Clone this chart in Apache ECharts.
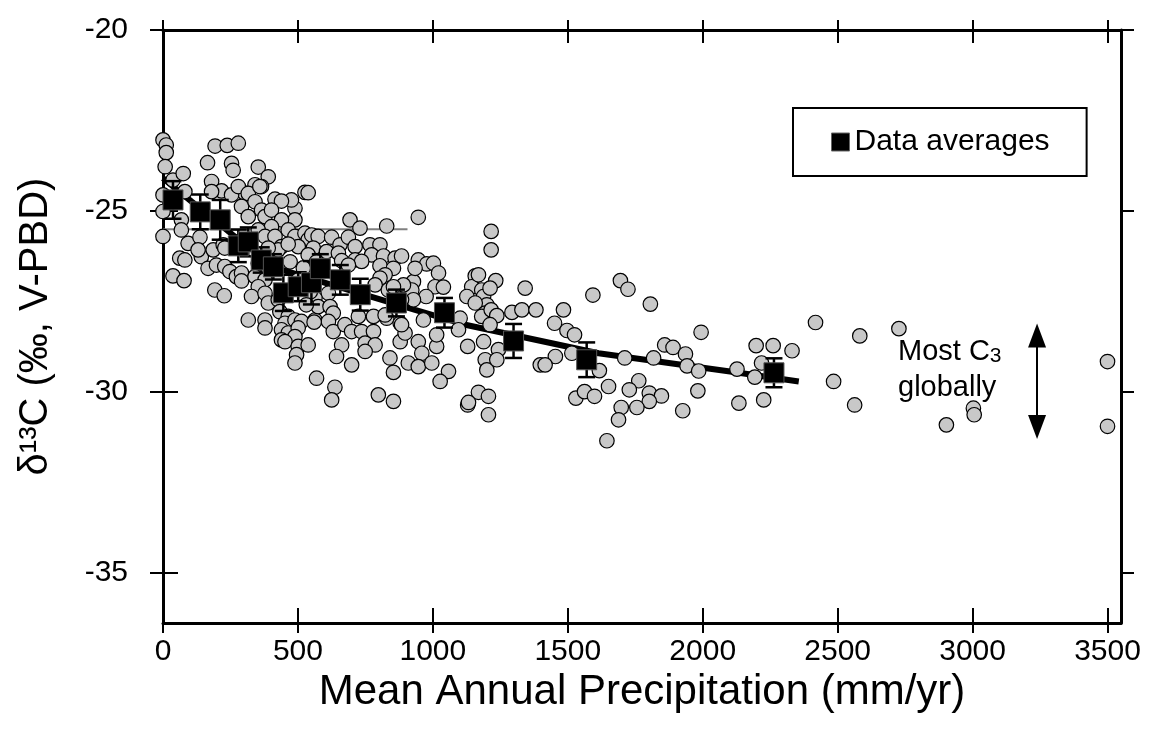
<!DOCTYPE html>
<html>
<head>
<meta charset="utf-8">
<script src="https://cdn.jsdelivr.net/npm/echarts@6/dist/echarts.min.js"></script>
<style>
html,body{margin:0;padding:0;background:#fff;}
#chart{width:1152px;height:745px;}
</style>
</head>
<body>
<div id="chart"></div>
<script>
// ---- data ----
const xTicks = [0, 500, 1000, 1500, 2000, 2500, 3000, 3500];
const yTicks = [-35, -30, -25, -20];

const scatterPoints = [
[0,-23.04],[12,-23.18],[12,-23.39],[8,-23.78],[37,-24.15],[75,-23.97],[193,-23.21],[238,-23.19],[279,-23.13],[165,-23.67],
[254,-23.69],[260,-23.88],[353,-23.79],[390,-24.06],[526,-24.49],[0,-24.56],[180,-24.19],[341,-24.28],[365,-24.33],[303,-24.51],
[489,-24.93],[476,-24.70],[415,-24.68],[439,-24.73],[81,-24.47],[217,-24.45],[254,-24.56],[279,-24.33],[316,-24.52],[359,-24.33],
[0,-25.02],[68,-25.25],[68,-25.53],[0,-25.71],[93,-25.90],[137,-25.73],[62,-26.31],[81,-26.36],[37,-26.80],[78,-26.93],
[142,-26.27],[167,-26.59],[198,-26.50],[229,-26.54],[248,-26.68],[272,-26.82],[291,-26.72],[291,-26.94],[192,-27.19],[227,-27.35],
[186,-26.08],[223,-25.94],[291,-24.88],[341,-24.75],[316,-25.16],[365,-24.98],[378,-25.16],[402,-24.98],[489,-25.25],[439,-25.25],
[402,-25.44],[464,-25.53],[489,-25.71],[526,-25.62],[538,-25.80],[501,-25.99],[563,-25.71],[353,-25.53],[378,-25.71],[415,-25.71],
[439,-25.99],[229,-26.03],[353,-26.45],[341,-26.82],[378,-26.91],[353,-27.10],[328,-27.37],[378,-27.28],[390,-27.55],[427,-27.46],
[433,-27.79],[464,-27.92],[452,-28.11],[489,-28.02],[513,-28.06],[563,-28.02],[439,-28.29],[464,-28.38],[501,-28.24],[489,-28.48],
[439,-28.57],[452,-28.62],[501,-28.75],[495,-28.98],[489,-29.21],[316,-28.02],[378,-28.02],[378,-28.24],[569,-29.63],[180,-24.47],
[130,-26.08],
[538,-24.50],[693,-25.25],[730,-25.48],[829,-25.42],[946,-25.18],[551,-25.67],[575,-25.71],[625,-25.73],[656,-25.94],[687,-25.73],
[712,-25.99],[767,-25.94],[804,-25.94],[773,-26.22],[817,-26.25],[860,-26.31],[884,-26.25],[946,-26.36],[977,-26.47],[1002,-26.45],
[1021,-26.72],[928,-26.96],[922,-27.19],[1008,-27.10],[1039,-27.11],[975,-27.37],[928,-27.46],[1157,-26.80],[1144,-27.10],[1126,-27.37],
[1181,-27.19],[1188,-27.37],[1200,-27.60],[1157,-27.55],[1194,-27.83],[1181,-27.92],[1101,-27.97],[1095,-28.29],[1129,-28.75],[1188,-28.62],
[1194,-29.12],[1200,-29.40],[1169,-30.02],[1129,-30.37],[1206,-30.64],[557,-26.03],[606,-26.13],[650,-26.17],[712,-26.36],[736,-26.40],
[662,-26.38],[687,-26.50],[804,-26.52],[854,-26.59],[823,-26.77],[804,-26.86],[786,-27.05],[835,-27.19],[891,-27.05],[613,-27.28],
[563,-27.42],[575,-27.65],[619,-27.65],[631,-27.83],[613,-28.06],[560,-28.08],[631,-28.34],[674,-28.15],[699,-28.34],[736,-28.34],
[780,-28.34],[780,-27.92],[724,-27.92],[829,-27.97],[879,-28.11],[879,-28.62],[897,-28.38],[946,-28.62],[959,-28.94],[909,-29.21],
[946,-29.31],[996,-29.21],[1014,-28.75],[1014,-28.43],[965,-28.02],[823,-27.88],[749,-28.66],[786,-28.71],[749,-28.89],[662,-28.71],
[643,-29.03],[699,-29.26],[841,-29.07],[854,-29.47],[637,-29.88],[625,-30.23],[798,-30.09],[854,-30.27],[1058,-29.44],[1027,-29.72],
[934,-26.59],[854,-27.10],[884,-27.46],[884,-28.15],[1132,-30.30],[1206,-30.13],
[1216,-25.57],[1216,-26.08],[1169,-26.77],[1233,-26.93],[1212,-27.14],[1342,-27.14],[1293,-27.81],[1330,-27.74],[1382,-27.74],[1216,-27.74],
[1237,-27.90],[1212,-28.15],[1243,-28.84],[1237,-29.12],[1484,-27.74],[1451,-28.11],[1497,-28.31],[1525,-28.43],[1515,-28.94],[1454,-29.03],
[1398,-29.26],[1416,-29.26],[1593,-27.33],[1617,-29.42],[1530,-30.18],[1562,-30.00],[1599,-30.13],[1651,-29.86],[1645,-31.36],[1695,-26.93],
[1723,-27.17],[1806,-27.58],[1711,-29.07],[1818,-29.07],[1763,-29.70],[1728,-29.95],[1802,-30.04],[1847,-30.12],[1802,-30.27],[1756,-30.44],
[1698,-30.44],[1688,-30.78],[1859,-28.71],[1890,-28.78],[1936,-28.96],[1942,-29.29],[1985,-29.43],[1994,-28.36],[1982,-29.98],[1926,-30.53],
[2127,-29.38],[2134,-30.32],[2198,-28.73],[2261,-28.73],[2331,-28.87],[2218,-29.21],[2193,-29.60],[2226,-30.23],
[2418,-28.09],[2582,-28.46],[2727,-28.26],[2485,-29.72],[2563,-30.37],[2903,-30.92],[3003,-30.46],[3006,-30.64],[3500,-29.17],[3500,-30.96],
[538,-26.22],[520,-26.58],[569,-26.41],[501,-26.91],[546,-27.24],[471,-26.41],[427,-26.08],[390,-26.03],[464,-25.92],[531,-27.60],[538,-28.71]
];

const avgX   = [37, 138, 212, 279, 316, 364, 409, 446, 501, 550, 583, 657, 731, 865, 1043, 1299, 1570, 2264];
const avgY   = [-24.70, -25.03, -25.25, -25.97, -25.86, -26.36, -26.55, -27.27, -27.10, -26.99, -26.60, -26.91, -27.32, -27.55, -27.82, -28.60, -29.12, -29.48];
const avgErr = [0.52, 0.48, 0.55, 0.45, 0.40, 0.35, 0.35, 0.50, 0.40, 0.60, 0.40, 0.41, 0.44, 0.37, 0.41, 0.47, 0.48, 0.40];

const fitX = [0, 105, 266, 427, 687, 934, 1120, 1614, 2108, 2356];
const fitY = [-24.10, -24.74, -25.71, -26.60, -27.19, -27.74, -28.15, -28.94, -29.45, -29.72];

const grayBarX = [0, 906];
const grayBarY = [-25.51, -25.51];

const arrowX = 3239;
const arrowYTop = -28.45;
const arrowYBottom = -30.98;

// ---- chart ----
const FONT = 'Liberation Sans, Arial, Helvetica, sans-serif';
const X_MIN = 0, X_MAX = 3550, Y_MIN = -36.4, Y_MAX = -20;
const gridBox = {left: 163, right: 31, top: 30, bottom: 122};

function xAx(grid, pos, opts) {
  return Object.assign({
    type: 'value', gridIndex: grid, position: pos, min: X_MIN, max: X_MAX,
    splitLine: {show: false},
    axisLine: {show: true, onZero: false, lineStyle: {color: '#000', width: 3}},
    axisTick: {show: true, inside: false, length: 10, customValues: xTicks, lineStyle: {color: '#000', width: 2}},
    axisLabel: {show: false, customValues: xTicks}
  }, opts);
}
function yAx(grid, pos, opts) {
  return Object.assign({
    type: 'value', gridIndex: grid, position: pos, min: Y_MIN, max: Y_MAX,
    splitLine: {show: false},
    axisLine: {show: true, onZero: false, lineStyle: {color: '#000', width: 3}},
    axisTick: {show: true, inside: false, length: 10, customValues: yTicks, lineStyle: {color: '#000', width: 2}},
    axisLabel: {show: false, customValues: yTicks}
  }, opts);
}

const chart = echarts.init(document.getElementById('chart'), null, {renderer: 'canvas'});

const option = {
  animation: false,
  backgroundColor: '#fff',
  textStyle: {fontFamily: FONT, color: '#000'},
  grid: [Object.assign({}, gridBox), Object.assign({}, gridBox)],
  xAxis: [
    xAx(0, 'bottom', {
      axisLabel: {show: true, customValues: xTicks, fontSize: 30, color: '#000', fontFamily: FONT, margin: 14,
        formatter: function (v) { return String(v); }},
      name: 'Mean Annual Precipitation (mm/yr)', nameLocation: 'middle', nameGap: 48,
      nameTextStyle: {fontSize: 42, color: '#000', fontFamily: FONT}
    }),
    xAx(0, 'top', {}),
    xAx(1, 'bottom', {axisLine: {show: false}, axisTick: {show: true, inside: true, length: 15, customValues: xTicks, lineStyle: {color: '#000', width: 2}}}),
    xAx(1, 'top', {axisLine: {show: false}, axisTick: {show: true, inside: true, length: 13, customValues: xTicks, lineStyle: {color: '#000', width: 2}}})
  ],
  yAxis: [
    yAx(0, 'left', {
      axisLabel: {show: true, customValues: yTicks, fontSize: 30, color: '#000', fontFamily: FONT, margin: 35,
        formatter: function (v) { return String(v); }},
      name: 'δ¹³C (‰, V-PBD)', nameLocation: 'middle', nameGap: 107,
      nameTextStyle: {fontSize: 40, color: '#000', fontFamily: FONT}
    }),
    yAx(0, 'right', {axisTick: {show: true, inside: false, length: 13, customValues: yTicks, lineStyle: {color: '#000', width: 2}}}),
    yAx(1, 'left', {axisLine: {show: false}, axisTick: {show: true, inside: true, length: 15, customValues: yTicks, lineStyle: {color: '#000', width: 2}}}),
    yAx(1, 'right', {axisLine: {show: false}, axisTick: {show: true, inside: true, length: 13, customValues: yTicks, lineStyle: {color: '#000', width: 2}}})
  ],
  legend: {
    data: ['Data averages'],
    left: 793, top: 108,
    padding: [19, 37, 19, 38],
    borderColor: '#000', borderWidth: 2,
    icon: 'rect', itemWidth: 18, itemHeight: 18,
    itemStyle: {color: '#000', opacity: 1, borderColor: '#666', borderWidth: 1},
    textStyle: {fontSize: 30, color: '#000', fontFamily: FONT},
    selectedMode: false
  },
  graphic: [{
    type: 'text', left: 898, top: 334, silent: true,
    style: {
      text: 'Most C{s|3}\nglobally',
      fill: '#000', fontSize: 29, fontFamily: FONT, lineHeight: 36,
      rich: {s: {fontSize: 21, fontFamily: FONT, fill: '#000', padding: [8, 0, 0, 0]}}
    }
  }],
  series: [
    {
      name: 'fit', type: 'line', xAxisIndex: 0, yAxisIndex: 0, z: 1,
      data: fitX.map((x, i) => [x, fitY[i]]),
      showSymbol: false, symbol: 'none', smooth: false,
      lineStyle: {color: '#000', width: 6}, silent: true
    },
    {
      name: 'grayBar', type: 'line', xAxisIndex: 0, yAxisIndex: 0, z: 1,
      data: grayBarX.map((x, i) => [x, grayBarY[i]]),
      showSymbol: false, symbol: 'none',
      lineStyle: {color: '#808080', width: 2}, silent: true
    },
    {
      name: 'points', type: 'scatter', xAxisIndex: 0, yAxisIndex: 0, z: 2,
      data: scatterPoints, symbol: 'circle', symbolSize: 14.5,
      itemStyle: {color: '#c8c8c8', borderColor: '#000', borderWidth: 1.2, opacity: 1},
      silent: true
    },
    {
      name: 'errors', type: 'custom', xAxisIndex: 0, yAxisIndex: 0, z: 3,
      data: avgX.map((x, i) => [x, avgY[i] - avgErr[i], avgY[i] + avgErr[i]]),
      encode: {x: 0, y: [1, 2]},
      renderItem: function (params, api) {
        const x = api.value(0);
        const lo = api.coord([x, api.value(1)]);
        const hi = api.coord([x, api.value(2)]);
        const hw = 8.5;
        const st = {stroke: '#000', lineWidth: 2.5};
        return {type: 'group', children: [
          {type: 'line', shape: {x1: hi[0], y1: hi[1], x2: lo[0], y2: lo[1]}, style: st},
          {type: 'line', shape: {x1: hi[0] - hw, y1: hi[1], x2: hi[0] + hw, y2: hi[1]}, style: st},
          {type: 'line', shape: {x1: lo[0] - hw, y1: lo[1], x2: lo[0] + hw, y2: lo[1]}, style: st}
        ]};
      },
      silent: true
    },
    {
      name: 'Data averages', type: 'scatter', xAxisIndex: 0, yAxisIndex: 0, z: 4,
      data: avgX.map((x, i) => [x, avgY[i]]),
      symbol: 'rect', symbolSize: 20,
      itemStyle: {color: '#000', opacity: 1, borderColor: '#555', borderWidth: 1},
      silent: true
    },
    {
      name: 'arrow', type: 'line', xAxisIndex: 0, yAxisIndex: 0, z: 3,
      data: [], silent: true,
      markLine: {
        silent: true, animation: false,
        symbol: ['triangle', 'triangle'], symbolSize: [18, 24],
        label: {show: false},
        lineStyle: {color: '#000', width: 2, type: 'solid'},
        data: [[{coord: [arrowX, arrowYTop]}, {coord: [arrowX, arrowYBottom]}]]
      }
    },
    {
      name: 'dummy', type: 'scatter', xAxisIndex: 2, yAxisIndex: 2, data: [], silent: true
    }
  ]
};
chart.setOption(option);
</script>
</body>
</html>
